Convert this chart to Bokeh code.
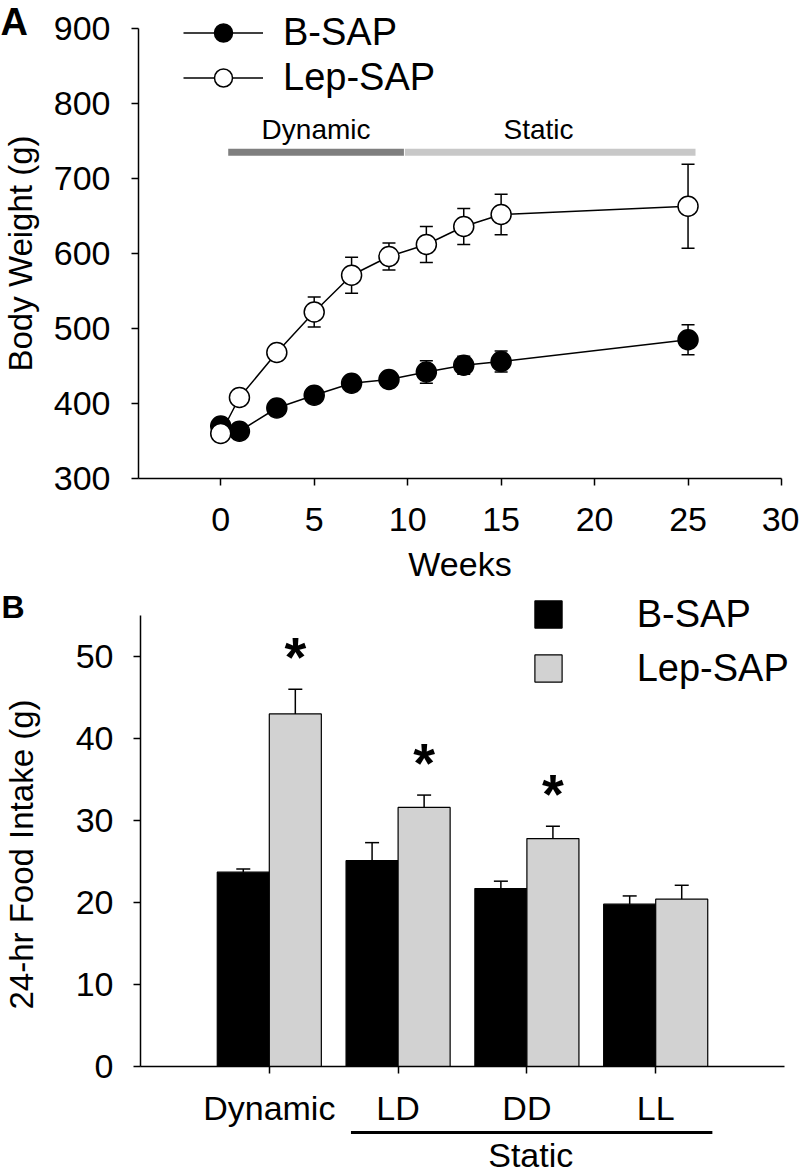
import math
from bokeh.plotting import figure
from bokeh.models import (Range1d, FixedTicker, Whisker, ColumnDataSource,
                          Legend, LegendItem, Label, TeeHead)
from bokeh.layouts import column
from bokeh.embed import file_html
from bokeh.resources import INLINE
from bokeh.core.properties import value

FONT = "Liberation Sans"

# ---------------- Panel A data ----------------
weeks = [0, 1, 3, 5, 7, 9, 11, 13, 15, 25]
bsap_bw = [370, 363, 394, 411, 427, 432, 442, 451, 456, 485]
bsap_bw_sem = [6, 6, 7, 8, 8, 9, 15, 12, 14, 20]
lep_bw = [360, 408, 468, 522, 571, 596, 612, 636, 652, 663]
lep_bw_sem = [5, 6, 9, 20, 24, 18, 24, 24, 27, 56]
series_names = ["B-SAP", "Lep-SAP"]

phase_names = ["Dynamic", "Static"]
phase_start = [0.4, 9.85]
phase_end = [9.8, 25.4]
phase_bar_y = [735, 735]
phase_label_x = [5.1, 17.0]
phase_colors = ["#7f7f7f", "#c8c8c8"]

x_ticks_a = [0, 5, 10, 15, 20, 25, 30]
y_ticks_a = [300, 400, 500, 600, 700, 800, 900]
x_lim_a = (-4.4, 30)
y_lim_a = (300, 900)

# ---------------- Panel B data ----------------
conditions = ["Dynamic", "LD", "DD", "LL"]
bsap_fi = [23.7, 25.1, 21.7, 19.8]
bsap_fi_sem = [0.4, 2.2, 0.9, 1.0]
lep_fi = [43.0, 31.6, 27.8, 20.4]
lep_fi_sem = [3.0, 1.5, 1.5, 1.7]
significant = [True, True, True, False]
y_ticks_b = [0, 10, 20, 30, 40, 50]
x_lim_b = (-1.0, 4.0)
y_lim_b = (0, 55)
group_name = "Static"
group_line_x = [0.634, 3.44]

BLACK = "#000000"
GRAY = "#d2d2d2"

W = 799
H1 = 588
H2 = 587
BASE_SHIFT = 0.35   # em offset of Bokeh's alphabetic anchor above the drawn baseline

# ---- pixel layout of panel A (canvas px) ----
A_left, A_right = 138, 781
A_top, A_bottom = 28, 478
kxA = (A_right - A_left) / (x_lim_a[1] - x_lim_a[0])
kyA = (A_bottom - A_top) / (y_lim_a[1] - y_lim_a[0])
xA0 = x_lim_a[0] - A_left / kxA
xA1 = xA0 + W / kxA
yA1 = y_lim_a[1] + A_top / kyA
yA0 = yA1 - H1 / kyA


def ax_(cx):
    return xA0 + cx / kxA


def ay_(cy):
    return yA1 - cy / kyA


# ---- pixel layout of panel B ----
B_left, B_right = 140, 784
B_top, B_bottom = 27, 478
kxB = (B_right - B_left) / (x_lim_b[1] - x_lim_b[0])
kyB = (B_bottom - B_top) / (y_lim_b[1] - y_lim_b[0])
xB0 = x_lim_b[0] - B_left / kxB
xB1 = xB0 + W / kxB
yB1 = y_lim_b[1] + B_top / kyB
yB0 = yB1 - H2 / kyB


def bx_(cx):
    return xB0 + cx / kxB


def by_(cy):
    return yB1 - cy / kyB


def style_axes(p, tick_size="34px"):
    for ax in p.axis:
        ax.axis_line_color = BLACK
        ax.axis_line_width = 1.5
        ax.major_tick_line_color = BLACK
        ax.major_tick_line_width = 1.5
        ax.major_tick_out = 7
        ax.major_tick_in = 0
        ax.minor_tick_line_color = None
        ax.major_label_text_font = FONT
        ax.major_label_text_font_size = tick_size
        ax.major_label_text_color = BLACK
    p.xgrid.visible = False
    p.ygrid.visible = False
    p.outline_line_color = None
    p.background_fill_color = "white"
    p.border_fill_color = "white"


def text_label(p, x, y, text, size, bold=False, align="left", angle=0.0):
    p.add_layout(Label(x=x, y=y, text=text, text_font=FONT, text_font_size=f"{size}px",
                       text_font_style="bold" if bold else "normal",
                       text_align=align, text_baseline="alphabetic",
                       angle=angle, text_color=BLACK))


# =============== Panel A ===============
p1 = figure(width=W, height=H1, output_backend="svg", toolbar_location=None,
            x_range=Range1d(xA0, xA1), y_range=Range1d(yA0, yA1),
            min_border=0)
p1.xaxis.ticker = FixedTicker(ticks=x_ticks_a)
p1.yaxis.ticker = FixedTicker(ticks=y_ticks_a)
p1.xaxis.fixed_location = y_lim_a[0]
p1.yaxis.fixed_location = x_lim_a[0]
p1.xaxis.bounds = x_lim_a
p1.yaxis.bounds = y_lim_a
style_axes(p1)
p1.xaxis.major_label_standoff = 22
p1.yaxis.major_label_standoff = 21

text_label(p1, (x_lim_a[0] + x_lim_a[1]) / 2, ay_(575 - BASE_SHIFT * 34), "Weeks", 34,
           align="center")
text_label(p1, ax_(32 - BASE_SHIFT * 33), (y_lim_a[0] + y_lim_a[1]) / 2,
           "Body Weight (g)", 33, align="center", angle=math.pi / 2)
text_label(p1, ax_(0), ay_(35 - BASE_SHIFT * 38), "A", 38, bold=True)

# phase bars and labels
p1.segment(x0=phase_start, y0=phase_bar_y, x1=phase_end, y1=phase_bar_y,
           line_color=phase_colors, line_width=7, line_cap="butt")
phase_label_y = [ay_(139 - BASE_SHIFT * 28)] * len(phase_names)
p1.text(x=phase_label_x, y=phase_label_y, text=phase_names,
        text_font=value(FONT), text_font_size="28px", text_align="center",
        text_baseline="alphabetic", text_color=BLACK)

src_b = ColumnDataSource(dict(x=weeks, y=bsap_bw,
                              lo=[v - e for v, e in zip(bsap_bw, bsap_bw_sem)],
                              hi=[v + e for v, e in zip(bsap_bw, bsap_bw_sem)]))
src_l = ColumnDataSource(dict(x=weeks, y=lep_bw,
                              lo=[v - e for v, e in zip(lep_bw, lep_bw_sem)],
                              hi=[v + e for v, e in zip(lep_bw, lep_bw_sem)]))

for src in (src_b, src_l):
    w = Whisker(source=src, base="x", lower="lo", upper="hi", dimension="height",
                line_color=BLACK, line_width=1.5, level="underlay",
                upper_head=TeeHead(size=13, line_color=BLACK, line_width=1.5),
                lower_head=TeeHead(size=13, line_color=BLACK, line_width=1.5))
    p1.add_layout(w)

lb = p1.line("x", "y", source=src_b, line_color=BLACK, line_width=1.5)
sb = p1.scatter("x", "y", source=src_b, size=20, marker="circle",
                fill_color=BLACK, line_color=BLACK, line_width=1.5)
ll = p1.line("x", "y", source=src_l, line_color=BLACK, line_width=1.5)
sl = p1.scatter("x", "y", source=src_l, size=20, marker="circle",
                fill_color="white", line_color=BLACK, line_width=1.5)

leg1 = Legend(items=[LegendItem(label=series_names[0], renderers=[lb, sb]),
                     LegendItem(label=series_names[1], renderers=[ll, sl])],
              location=(183, H1 - 99.5), orientation="vertical",
              glyph_width=80, glyph_height=45, label_height=45, spacing=0,
              label_standoff=20, padding=0, margin=0,
              border_line_color=None, background_fill_alpha=0,
              label_text_font=FONT, label_text_font_size="38px",
              label_text_baseline="middle", label_text_color=BLACK)
p1.add_layout(leg1)

# =============== Panel B ===============
p2 = figure(width=W, height=H2, output_backend="svg", toolbar_location=None,
            x_range=Range1d(xB0, xB1), y_range=Range1d(yB0, yB1),
            min_border=0)
p2.xaxis.ticker = FixedTicker(ticks=list(range(len(conditions))))
p2.xaxis.major_label_overrides = {i: c for i, c in enumerate(conditions)}
p2.yaxis.ticker = FixedTicker(ticks=y_ticks_b)
p2.xaxis.fixed_location = y_lim_b[0]
p2.yaxis.fixed_location = x_lim_b[0]
p2.xaxis.bounds = x_lim_b
p2.yaxis.bounds = y_lim_b
style_axes(p2)
p2.xaxis.major_label_standoff = 15
p2.yaxis.major_label_standoff = 20

text_label(p2, bx_(33 - BASE_SHIFT * 33), by_(266), "24-hr Food Intake (g)", 33,
           align="center", angle=math.pi / 2)
text_label(p2, bx_(1), by_(30 - BASE_SHIFT * 32), "B", 32, bold=True)

bar_w = 0.404
xb = [i - bar_w / 2 for i in range(len(conditions))]
xl = [i + bar_w / 2 for i in range(len(conditions))]

src_fb = ColumnDataSource(dict(x=xb, top=bsap_fi,
                               hi=[v + e for v, e in zip(bsap_fi, bsap_fi_sem)]))
src_fl = ColumnDataSource(dict(x=xl, top=lep_fi,
                               hi=[v + e for v, e in zip(lep_fi, lep_fi_sem)]))

for src in (src_fb, src_fl):
    w = Whisker(source=src, base="x", lower="top", upper="hi", dimension="height",
                line_color=BLACK, line_width=1.5, level="underlay",
                upper_head=TeeHead(size=14, line_color=BLACK, line_width=1.5),
                lower_head=None)
    p2.add_layout(w)

vb = p2.vbar(x="x", top="top", bottom=0, width=bar_w, source=src_fb,
             fill_color=BLACK, line_color=BLACK, line_width=1.2)
vl = p2.vbar(x="x", top="top", bottom=0, width=bar_w, source=src_fl,
             fill_color=GRAY, line_color=BLACK, line_width=1.2)

# significance asterisks
ast_x = [x for x, s in zip(xl, significant) if s]
ast_y = [v + e + 4.6 for v, e, s in zip(lep_fi, lep_fi_sem, significant) if s]
p2.text(x=ast_x, y=ast_y, text=["*"] * len(ast_x), text_font=value(FONT),
        text_font_size="56px", text_font_style="bold", text_align="center",
        text_baseline="alphabetic", y_offset=5, text_color=BLACK)

leg2 = Legend(items=[LegendItem(label=series_names[0], renderers=[vb]),
                     LegendItem(label=series_names[1], renderers=[vl])],
              location=(530.7, H2 - 101.7), orientation="vertical",
              glyph_width=34, glyph_height=34, label_height=34, spacing=11,
              label_standoff=72, padding=0, margin=0,
              border_line_color=None, background_fill_alpha=0,
              label_text_font=FONT, label_text_font_size="38px",
              label_text_baseline="middle", label_text_color=BLACK)
p2.add_layout(leg2)

# "Static" grouping line under LD, DD, LL and its label
gy = by_(544)
p2.segment(x0=[group_line_x[0]], y0=[gy], x1=[group_line_x[1]], y1=[gy],
           line_color=BLACK, line_width=3, line_cap="butt")
text_label(p2, 2.03, by_(578 - BASE_SHIFT * 34), group_name, 34, align="center")

layout = column(p1, p2, spacing=0)
open("out.html", "w").write(file_html(layout, INLINE))
